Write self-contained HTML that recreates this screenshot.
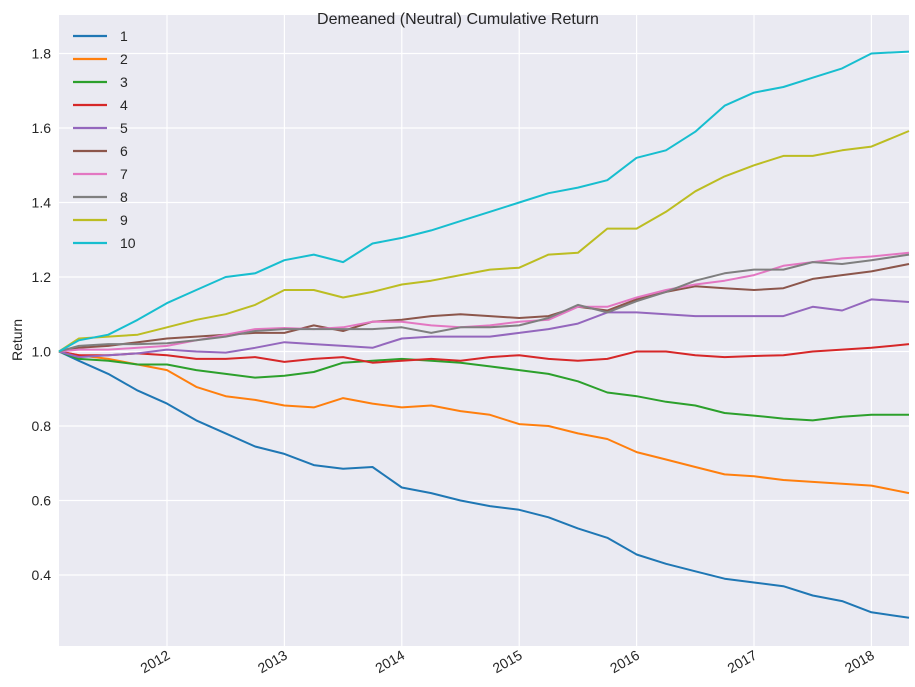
<!DOCTYPE html>
<html><head><meta charset="utf-8"><style>
body{margin:0;background:#fff;}
svg{display:block;font-family:"Liberation Sans","DejaVu Sans",sans-serif;}
</style></head><body>
<svg id="chart" width="915" height="687"></svg>
<script>
const dates=[2011.08,2011.25,2011.5,2011.75,2012,2012.25,2012.5,2012.75,2013,2013.25,2013.5,2013.75,2014,2014.25,2014.5,2014.75,2015,2015.25,2015.5,2015.75,2016,2016.25,2016.5,2016.75,2017,2017.25,2017.5,2017.75,2018,2018.32];
const s1=[1.0,0.975,0.94,0.895,0.86,0.815,0.78,0.745,0.725,0.695,0.685,0.69,0.635,0.62,0.60,0.585,0.575,0.555,0.525,0.50,0.455,0.43,0.41,0.39,0.38,0.37,0.345,0.33,0.30,0.285];
const s2=[1.0,0.99,0.98,0.965,0.95,0.905,0.88,0.87,0.855,0.85,0.875,0.86,0.85,0.855,0.84,0.83,0.805,0.80,0.78,0.765,0.73,0.71,0.69,0.67,0.665,0.655,0.65,0.645,0.64,0.62];
const s3=[1.0,0.98,0.975,0.965,0.965,0.95,0.94,0.93,0.935,0.945,0.97,0.975,0.98,0.975,0.97,0.96,0.95,0.94,0.92,0.89,0.88,0.865,0.855,0.835,0.828,0.82,0.815,0.825,0.83,0.83];
const s4=[1.0,0.99,0.99,0.995,0.99,0.98,0.98,0.985,0.972,0.98,0.985,0.97,0.975,0.98,0.975,0.985,0.99,0.98,0.975,0.98,1.0,1.0,0.99,0.985,0.988,0.99,1.0,1.005,1.01,1.02];
const s5=[1.0,0.985,0.99,0.995,1.005,1.0,0.997,1.01,1.025,1.02,1.015,1.01,1.035,1.04,1.04,1.04,1.05,1.06,1.075,1.105,1.105,1.10,1.095,1.095,1.095,1.095,1.12,1.11,1.14,1.133];
const s6=[1.0,1.01,1.015,1.025,1.035,1.04,1.045,1.05,1.05,1.07,1.055,1.08,1.085,1.095,1.10,1.095,1.09,1.095,1.12,1.11,1.14,1.16,1.175,1.17,1.165,1.17,1.195,1.205,1.215,1.235];
const s7=[1.0,1.005,1.005,1.01,1.015,1.03,1.045,1.06,1.063,1.06,1.065,1.08,1.08,1.07,1.065,1.07,1.08,1.085,1.12,1.12,1.145,1.165,1.18,1.19,1.205,1.23,1.24,1.25,1.255,1.265];
const s8=[1.0,1.015,1.02,1.02,1.022,1.03,1.04,1.055,1.06,1.06,1.06,1.06,1.065,1.05,1.065,1.065,1.07,1.09,1.125,1.105,1.135,1.16,1.19,1.21,1.22,1.22,1.24,1.235,1.245,1.26];
const s9=[1.0,1.035,1.04,1.045,1.065,1.085,1.10,1.125,1.165,1.165,1.145,1.16,1.18,1.19,1.205,1.22,1.225,1.26,1.265,1.33,1.33,1.375,1.43,1.47,1.50,1.525,1.525,1.54,1.55,1.592];
const s10=[1.0,1.03,1.045,1.085,1.13,1.165,1.2,1.21,1.245,1.26,1.24,1.29,1.305,1.325,1.35,1.375,1.40,1.425,1.44,1.46,1.52,1.54,1.59,1.66,1.695,1.71,1.735,1.76,1.80,1.805];
const seriesNames=["1","2","3","4","5","6","7","8","9","10"];
const colors=["#1f77b4","#ff7f0e","#2ca02c","#d62728","#9467bd","#8c564b","#e377c2","#7f7f7f","#bcbd22","#17becf"];
const yTicks=[0.4,0.6,0.8,1.0,1.2,1.4,1.6,1.8];
const xTicks=[2012,2013,2014,2015,2016,2017,2018];

const NS="http://www.w3.org/2000/svg";
const svg=document.getElementById('chart');
const L=59,R=909,T=15,B=646;
function xs(t){return 167+(t-2012)*117.4;}
function ys(v){return 351.5-(v-1)*372.5;}
function mk(tag,attrs,parent){const e=document.createElementNS(NS,tag);for(const k in attrs)e.setAttribute(k,attrs[k]);(parent||svg).appendChild(e);return e;}

const bg=mk('rect',{x:L,y:T,width:R-L,height:B-T,fill:'#eaeaf2'});


const grid=mk('g',{});


yTicks.forEach(v=>{
  const y=ys(v);
  const gl=mk('line',{x1:L,x2:R,y1:y,y2:y,stroke:'#fff','stroke-width':1.2},grid);
  
  
  const t=mk('text',{x:L-8,y:y+5,'text-anchor':'end','font-size':14,fill:'#262626'});
  t.textContent=v.toFixed(1);
  
  
});
xTicks.forEach(v=>{
  const x=xs(v);
  const gl=mk('line',{x1:x,x2:x,y1:T,y2:B,stroke:'#fff','stroke-width':1.2},grid);
  
  
  const t=mk('text',{x:0,y:0,'text-anchor':'end','font-size':14,fill:'#262626',transform:`translate(${x+4},${B+12}) rotate(-30)`});
  t.textContent=String(v);
  
  
});
const allSeries=[s1,s2,s3,s4,s5,s6,s7,s8,s9,s10];
allSeries.forEach((s,i)=>{
  const d=s.map((v,j)=>(j?'L':'M')+xs(dates[j]).toFixed(1)+','+ys(v).toFixed(1)).join(' ');
  const p=mk('path',{d:d,fill:'none',stroke:colors[i],'stroke-width':2,'stroke-linejoin':'round'});
  
  
});
const lg=mk('g',{});


seriesNames.forEach((n,i)=>{
  const y=36+i*23;
  const ln=mk('line',{x1:73,x2:107,y1:y,y2:y,stroke:colors[i],'stroke-width':2.2},lg);
  
  
  const t=mk('text',{x:120,y:y+5,'font-size':14,fill:'#262626'},lg);
  t.textContent=n;
  
  
});
const title=mk('text',{x:458,y:24,'text-anchor':'middle','font-size':16,fill:'#262626'});
title.textContent='Demeaned (Neutral) Cumulative Return';


const yl=mk('text',{x:0,y:0,'text-anchor':'middle','font-size':14,fill:'#262626',transform:'translate(22,340) rotate(-90)'});
yl.textContent='Return';


</script>
</body></html>
